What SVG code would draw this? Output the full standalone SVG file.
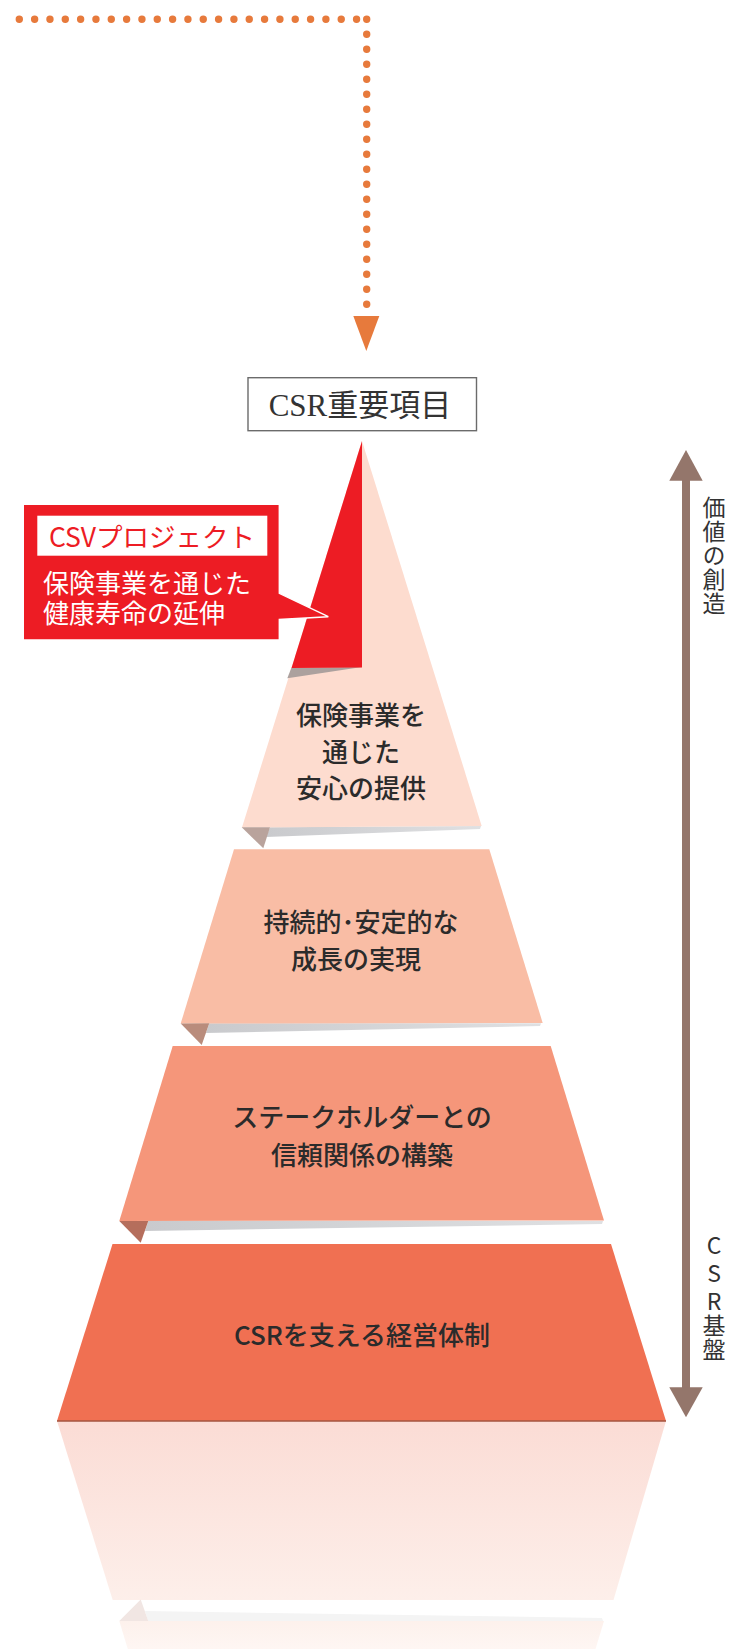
<svg xmlns="http://www.w3.org/2000/svg" width="732" height="1649" viewBox="0 0 732 1649">
<style>
.lbl{font-family:"Noto Sans CJK JP","Noto Sans",sans-serif;font-size:26px;font-weight:500;fill:#2b2b2b;text-anchor:middle}
.wt{font-family:"Noto Sans CJK JP","Noto Sans",sans-serif;font-size:26px;fill:#ffffff}
.vt{font-family:"Noto Sans CJK JP","Noto Sans",sans-serif;font-size:23px;fill:#333333;writing-mode:vertical-rl;text-orientation:upright}
.fold1{fill:#b9a39c}
.fold2{fill:#b98c7c}
.fold3{fill:#b56e5c}
.strip{fill:url(#stripG)}
.dots{fill:none;stroke:#e77a3c;stroke-width:7.4;stroke-linecap:round}
</style>
<defs>
<linearGradient id="stripG" x1="0" y1="0" x2="1" y2="0">
<stop offset="0" stop-color="#c9cacd"/>
<stop offset="1" stop-color="#dfe0e2"/>
</linearGradient>
<linearGradient id="reflG" x1="0" y1="0" x2="0" y2="1">
<stop offset="0" stop-color="#fbdcd5"/>
<stop offset="1" stop-color="#fdefea"/>
</linearGradient>
<linearGradient id="reflG2" x1="0" y1="0" x2="0" y2="1">
<stop offset="0" stop-color="#fdf1ec"/>
<stop offset="1" stop-color="#fef6f3"/>
</linearGradient>
</defs>

<g id="connectors">
<path class="dots" stroke-dasharray="0 15.33" d="M19.3,19.3 H357"/>
<path class="dots" stroke-dasharray="0 15" d="M366.7,19.3 V305"/>
<polygon points="353.3,316 379.3,316 366.3,351" fill="#e77a3c"/>
</g>

<g id="csr-box">
<rect x="248" y="377.7" width="228.5" height="53" fill="#ffffff" stroke="#6b6b6b" stroke-width="1.4"/>
<text x="360" y="416" font-family="'Liberation Serif','Noto Sans CJK JP',serif" font-size="31" fill="#333333" text-anchor="middle">CSR重要項目</text>
</g>

<g id="reflection">
<polygon points="57,1421 666,1421 613.5,1600 112.7,1600" fill="url(#reflG)"/>
<polygon points="148.3,1621 603,1621 602,1618 145,1611" fill="#f4f4f4"/>
<polygon points="119.3,1621 148.3,1621 140.7,1599.5" fill="#f1e6e3"/>
<polygon points="119.3,1621 604,1621 595.5,1649 127.8,1649" fill="url(#reflG2)"/>
</g>

<g id="tier4">
<polygon points="112.5,1244 611,1244 666,1421 57,1421" fill="#f07052"/>
<line x1="57" y1="1421" x2="666" y2="1421" stroke="#a4553f" stroke-width="1.6"/>
<text class="lbl" x="362" y="1345" font-size="25">CSRを支える経営体制</text>
</g>

<g id="tier3">
<polygon points="148.3,1221 603,1221 602,1224 145,1231" class="strip"/>
<polygon points="172.7,1046 550.7,1046 604,1220.5 119.3,1221" fill="#f5967a"/>
<polygon points="119.3,1221 148.3,1221 140.7,1242.7" class="fold3"/>
<text class="lbl" x="362" y="1126.5">ステークホルダーとの</text>
<text class="lbl" x="362" y="1164.5">信頼関係の構築</text>
</g>

<g id="tier2">
<polygon points="209.3,1023.3 541,1023.3 540,1026 206,1033" class="strip"/>
<polygon points="234,849.3 489.3,849.3 542.7,1023 180.7,1023.5" fill="#f9bda5"/>
<polygon points="180.7,1023.5 209.3,1023.3 201.7,1045" class="fold2"/>
<text class="lbl" x="361" y="931.5">持続的･安定的な</text>
<text class="lbl" x="356" y="968.5">成長の実現</text>
</g>

<g id="tier1">
<polygon points="270,827.3 481,826 480,829 266,837" class="strip"/>
<polygon points="362,441 481.7,826 242,827.5" fill="#fddccf"/>
<polygon points="241.7,827.3 270,827.3 263.3,848.3" class="fold1"/>
<polygon points="291.3,668 362,667 287.3,678.3" fill="#aca19e"/>
<polygon points="362,441 362,667.5 291.5,668" fill="#ed1c24"/>
<text class="lbl" x="361" y="725">保険事業を</text>
<text class="lbl" x="361" y="761.5">通じた</text>
<text class="lbl" x="361" y="798">安心の提供</text>
</g>

<g id="callout">
<path d="M23.3,504.3 H279.3 V593.3 L328.3,616.7 L279.3,619.5 V640 H23.3 Z" fill="#ed1c24" stroke="#ffffff" stroke-width="1.4" stroke-linejoin="miter"/>
<rect x="37.3" y="515.7" width="230" height="40" fill="#ffffff"/>
<text class="wt"><tspan x="152" y="547" font-size="26.5" fill="#ed1c24" text-anchor="middle">CSVプロジェクト</tspan><tspan x="43" y="592.5" text-anchor="start">保険事業を通じた</tspan><tspan x="43" y="623" text-anchor="start">健康寿命の延伸</tspan></text>
</g>

<g id="axis">
<rect x="682" y="478" width="8" height="912" fill="#94766b"/>
<polygon points="686,450 702.7,480.7 669.3,480.7" fill="#94766b"/>
<polygon points="669.3,1387.3 702.7,1387.3 686,1417.3" fill="#94766b"/>
<text class="vt" x="714" y="496" letter-spacing="1">価値の創造</text>
<text class="vt" x="714" y="1233.5" font-size="24"><tspan letter-spacing="5">CS</tspan><tspan letter-spacing="1">R基盤</tspan></text>
</g>
</svg>
